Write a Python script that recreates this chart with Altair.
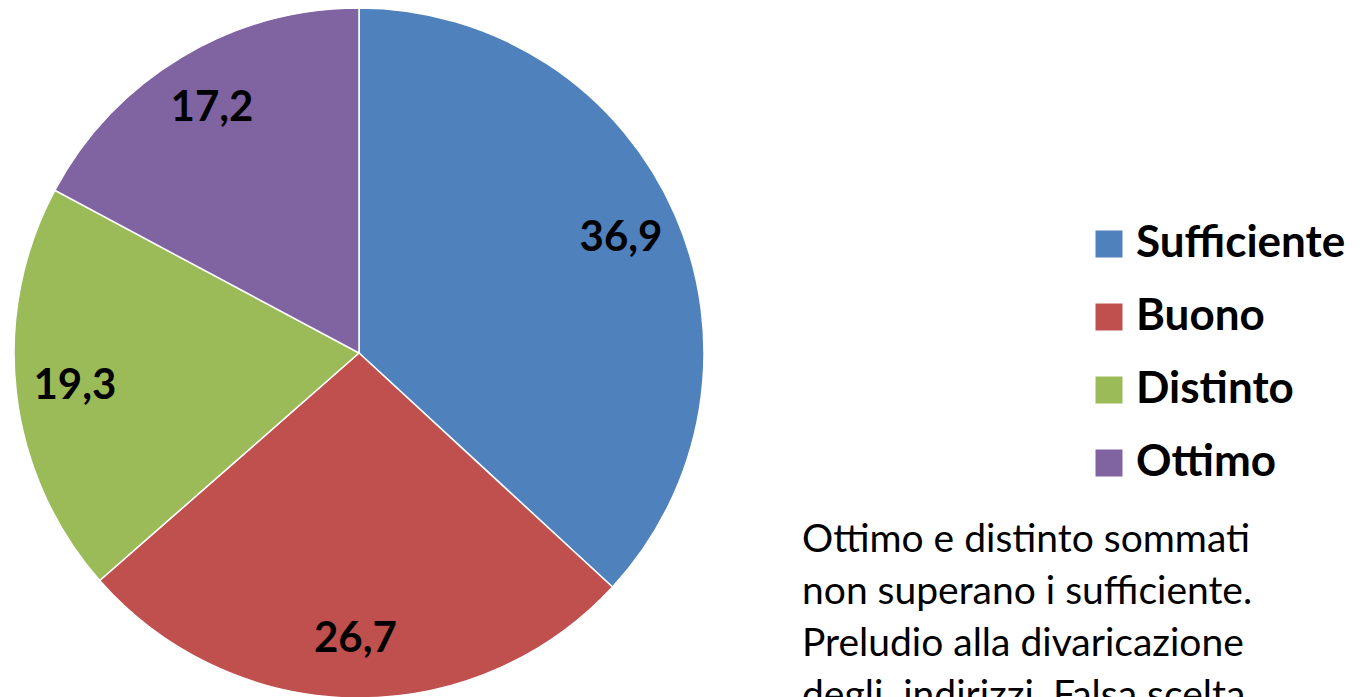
import altair as alt
import pandas as pd

categories = ["Sufficiente", "Buono", "Distinto", "Ottimo"]
values = [36.9, 26.7, 19.3, 17.2]
labels = ["36,9", "26,7", "19,3", "17,2"]
colors = ["#4F81BD", "#C0504D", "#9BBB59", "#8064A2"]
note_lines = [
    "Ottimo e distinto sommati",
    "non superano i sufficiente.",
    "Preludio alla divaricazione",
    "degli\u00a0 indirizzi. Falsa scelta",
]

df = pd.DataFrame({"cat": categories, "val": values, "lab": labels, "idx": list(range(len(categories)))})

base = alt.Chart(df).encode(
    theta=alt.Theta("val:Q", stack=True),
    order=alt.Order("idx:Q", sort="ascending"),
)

pie = base.mark_arc(x=351, y=345, radius=345, stroke="white", strokeWidth=1.5).encode(
    color=alt.Color(
        "cat:N",
        scale=alt.Scale(domain=categories, range=colors),
        sort=categories,
        legend=alt.Legend(
            title=None,
            orient="none",
            legendX=1079,
            legendY=214,
            symbolType="square",
            symbolSize=729,
            symbolStrokeWidth=0,
            symbolOpacity=1,
            labelFont="Lato",
            labelFontSize=44,
            labelFontWeight="bold",
            labelColor="black",
            labelOffset=5,
            labelLimit=400,
            rowPadding=29,
            padding=0,
        ),
    )
)

text = base.mark_text(
    x=351, y=345, radius=286, font="Lato", fontWeight="bold", fontSize=42, color="black"
).encode(text="lab:N")

note = alt.Chart(pd.DataFrame({"a": [0]})).mark_text(
    font="Lato", fontSize=39, color="black", align="left", baseline="alphabetic", lineHeight=52
).encode(x=alt.value(794), y=alt.value(544), text=alt.value(note_lines))

chart = (
    alt.layer(pie, text, note)
    .properties(width=1346, height=720, padding=0, autosize="none")
    .configure_view(stroke=None)
)

chart.save("out.html", embed_options={"renderer": "svg", "actions": False})
